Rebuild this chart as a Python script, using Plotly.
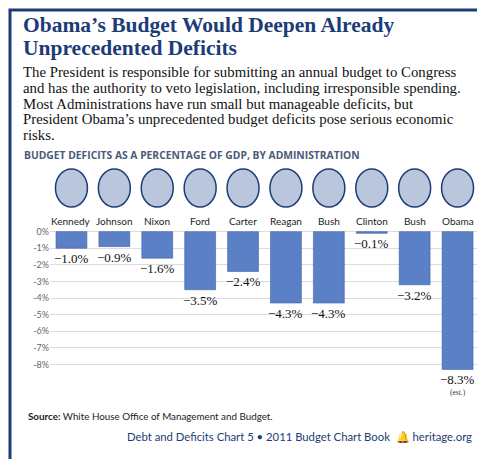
import plotly.graph_objects as go

presidents = ["Kennedy", "Johnson", "Nixon", "Ford", "Carter", "Reagan", "Bush", "Clinton", "Bush", "Obama"]
deficits = [-1.0, -0.9, -1.6, -3.5, -2.4, -4.3, -4.3, -0.1, -3.2, -8.3]
value_labels = ["−1.0%", "−0.9%", "−1.6%", "−3.5%", "−2.4%", "−4.3%", "−4.3%", "−0.1%", "−3.2%", "−8.3%"]
tick_vals = [0, -1, -2, -3, -4, -5, -6, -7, -8]
tick_text = ["0%", "-1%", "-2%", "-3%", "-4%", "-5%", "-6%", "-7%", "-8%"]

W, H = 485, 459
L, R, T, B = 42, 14, 222, 81
PW, PH = W - L - R, H - T - B
def px(x, y):
    return (x - L) / PW, 1 - (y - T) / PH

NAVY = "#1c3c78"
fig = go.Figure()
fig.add_bar(x=list(range(10)), y=deficits, width=0.72,
            marker=dict(color="#5b80c6", line=dict(color="#3d62a8", width=0.6)),
            hoverinfo="skip")

ann = []
for i, (v, t) in enumerate(zip(deficits, value_labels)):
    ann.append(dict(x=i, y=v, xref="x", yref="y", text=t, showarrow=False, yanchor="top", yshift=-1,
                    font=dict(family="Liberation Serif", size=13, color="#111")))
    ann.append(dict(x=i, y=1, xref="x", yref="paper", text=presidents[i], showarrow=False, yanchor="bottom",
                    yshift=1, font=dict(family="Lato", size=10, color="#222")))
ann.append(dict(x=9, y=-8.3, xref="x", yref="y", text="(est.)", showarrow=False, yanchor="top", yshift=-17,
                font=dict(family="Liberation Serif", size=7.5, color="#333")))

def txt(x, y, s, size, color, family, anchor="left", bold=False):
    xx, yy = px(x, y)
    ann.append(dict(x=xx, y=yy, xref="paper", yref="paper", text=("<b>%s</b>" % s if bold else s),
                    showarrow=False, xanchor=anchor, yanchor="middle",
                    font=dict(family=family, size=size, color=color), align=anchor))

txt(13, 17, "Obama’s Budget Would Deepen Already", 21.5, NAVY, "Liberation Serif", bold=True)
txt(13, 40, "Unprecedented Deficits", 21.5, NAVY, "Liberation Serif", bold=True)
body = ["The President is responsible for submitting an annual budget to Congress",
        "and has the authority to veto legislation, including irresponsible spending.",
        "Most Administrations have run small but manageable deficits, but",
        "President Obama’s unprecedented budget deficits pose serious economic",
        "risks."]
for k, line in enumerate(body):
    txt(13, 64 + 15.8 * k, line, 14.8, "#111", "Liberation Serif")
txt(14, 147, "BUDGET DEFICITS AS A PERCENTAGE OF GDP, BY ADMINISTRATION", 10.3, "#4a5a78", "Open Sans", bold=True)
txt(18, 408, "<b>Source:</b> White House Office of Management and Budget.", 9.8, "#222", "Lato")
txt(466, 429, "Debt and Deficits Chart 5 • 2011 Budget Chart Book  🔔 heritage.org", 11.3, NAVY, "Lato", anchor="right")

shapes = []
for i in range(10):
    shapes.append(dict(type="circle", xref="x", yref="paper", xsizemode="pixel", ysizemode="pixel",
                       xanchor=i, yanchor=1, x0=-16, x1=16, y0=23, y1=61,
                       fillcolor="#b9c6dc", line=dict(color=NAVY, width=1.5)))
x0, y1 = px(2, 2)
x1, y0 = px(W - 2, H - 2)
shapes.append(dict(type="rect", xref="paper", yref="paper", x0=x0, x1=x1, y0=y0, y1=y1,
                   line=dict(color=NAVY, width=3), fillcolor="rgba(0,0,0,0)"))

fig.update_layout(
    width=W, height=H, margin=dict(l=L, r=R, t=T, b=B),
    paper_bgcolor="white", plot_bgcolor="white", showlegend=False,
    annotations=ann, shapes=shapes,
    xaxis=dict(range=[-0.5, 9.5], showticklabels=False, showgrid=False, zeroline=False, fixedrange=True),
    yaxis=dict(range=[-9.3, 0.1], tickvals=tick_vals, ticktext=tick_text, showgrid=True,
               gridcolor="#dcdcdc", zeroline=False, tickfont=dict(family="Lato", size=9, color="#666"),
               ticks="", fixedrange=True),
)
fig.write_html("out.html")
